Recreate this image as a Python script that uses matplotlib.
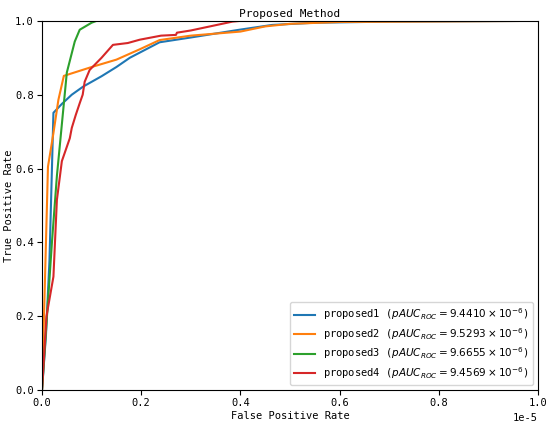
import numpy as np
import matplotlib
matplotlib.use("Agg")
import matplotlib.pyplot as plt

plt.rcParams['font.family'] = ['DejaVu Sans Mono', 'DejaVu Sans']
plt.rcParams['axes.unicode_minus'] = False

# FPR values in units of 1e-5, TPR values
fpr1 = [0, 0.008, 0.015, 0.02, 0.023, 0.04, 0.06, 0.083, 0.12, 0.15, 0.177, 0.197, 0.237, 0.3, 0.398, 0.464, 0.55, 0.7, 1.0]
tpr1 = [0, 0.15, 0.35, 0.6, 0.751, 0.775, 0.80, 0.822, 0.85, 0.875, 0.90, 0.914, 0.942, 0.955, 0.976, 0.989, 0.995, 0.998, 1.0]

fpr2 = [0, 0.004, 0.012, 0.023, 0.033, 0.044, 0.1, 0.15, 0.197, 0.237, 0.3, 0.4, 0.45, 0.5, 0.6, 1.0]
tpr2 = [0, 0.2, 0.605, 0.696, 0.786, 0.851, 0.875, 0.895, 0.923, 0.948, 0.96, 0.971, 0.985, 0.992, 0.997, 1.0]

fpr3 = [0, 0.01, 0.02, 0.03, 0.04, 0.05, 0.066, 0.076, 0.1, 0.11, 1.0]
tpr3 = [0, 0.2, 0.4, 0.58, 0.72, 0.86, 0.944, 0.976, 0.995, 1.0, 1.0]

fpr4 = [0, 0.009, 0.023, 0.03, 0.04, 0.056, 0.06, 0.068, 0.076, 0.082, 0.086, 0.096, 0.12, 0.143, 0.173, 0.197, 0.24, 0.27, 0.272, 0.3, 0.384, 0.4, 1.0]
tpr4 = [0, 0.2, 0.307, 0.515, 0.62, 0.682, 0.71, 0.745, 0.777, 0.80, 0.835, 0.867, 0.90, 0.935, 0.94, 0.949, 0.96, 0.962, 0.968, 0.974, 0.998, 1.0, 1.0]

labels = [
    r'proposed1 ($pAUC_{ROC}=9.4410\times10^{-6}$)',
    r'proposed2 ($pAUC_{ROC}=9.5293\times10^{-6}$)',
    r'proposed3 ($pAUC_{ROC}=9.6655\times10^{-6}$)',
    r'proposed4 ($pAUC_{ROC}=9.4569\times10^{-6}$)',
]

fig = plt.figure(figsize=(5.5, 4.26), dpi=100)
ax = fig.add_axes([0.0764, 0.0845, 0.9018, 0.8665])

for f, t, lab in zip([fpr1, fpr2, fpr3, fpr4], [tpr1, tpr2, tpr3, tpr4], labels):
    ax.plot(np.array(f) * 1e-5, t, lw=1.5, label=lab)

ax.set_xlim(0, 1e-5)
ax.set_ylim(0, 1.0)
ax.set_xlabel('False Positive Rate', fontsize=7.5, labelpad=2)
ax.set_ylabel('True Positive Rate', fontsize=7.5, labelpad=1)
ax.set_title('Proposed Method', fontsize=8, pad=3)
ax.tick_params(labelsize=7.5, pad=2.5)
ax.xaxis.get_offset_text().set_fontsize(7.5)
ax.legend(loc='lower right', fontsize=7.5, handlelength=2.0, labelspacing=0.35)

fig.savefig('out.png', dpi=100)
